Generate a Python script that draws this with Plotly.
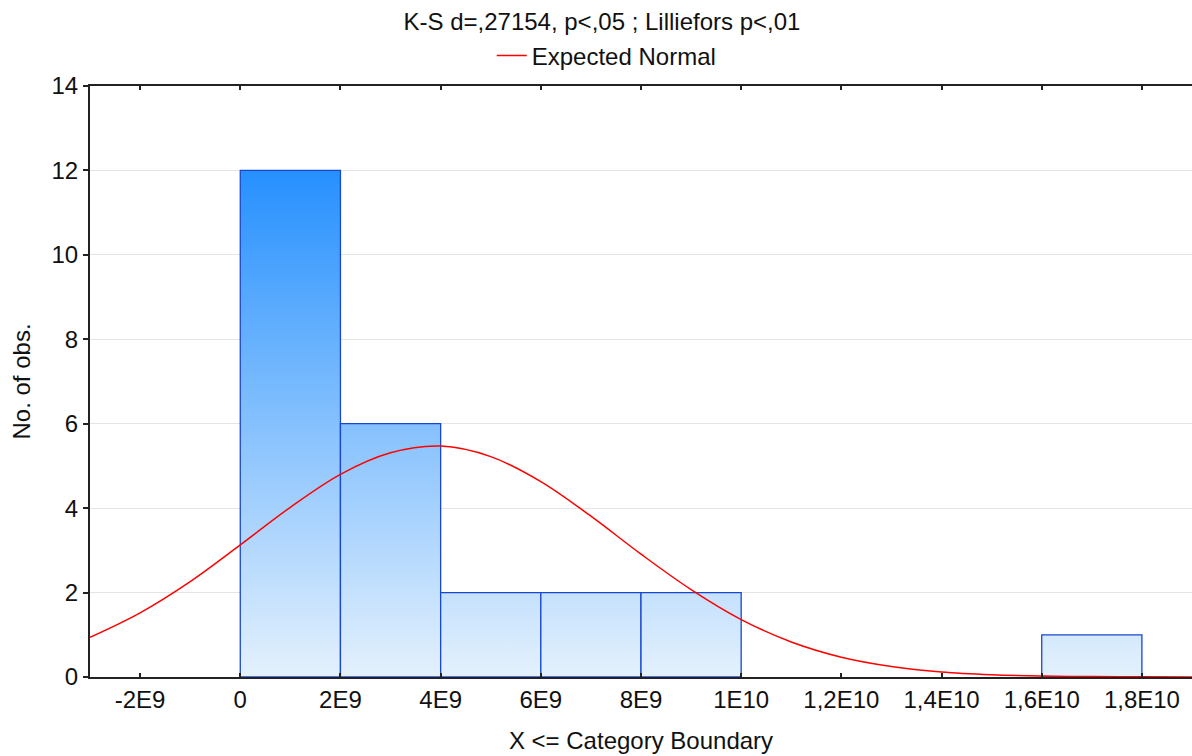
import plotly.graph_objects as go

# ---- data ----
bin_left = [0, 2e9, 4e9, 6e9, 8e9, 1.0e10, 1.2e10, 1.4e10, 1.6e10]
bin_right = [2e9, 4e9, 6e9, 8e9, 1.0e10, 1.2e10, 1.4e10, 1.6e10, 1.8e10]
counts = [12, 6, 2, 2, 2, 0, 0, 0, 1]

curve_x = [-3e9, -2e9, -1e9, 0, 1e9, 2e9, 3e9, 4e9, 5e9, 6e9, 7e9, 8e9, 9e9,
           1.0e10, 1.1e10, 1.2e10, 1.3e10, 1.4e10, 1.5e10, 1.6e10, 1.7e10, 1.8e10, 1.9e10]
curve_y = [0.94, 1.52, 2.26, 3.13, 4.02, 4.80, 5.31, 5.47, 5.22, 4.63, 3.81, 2.91, 2.07,
           1.36, 0.83, 0.47, 0.25, 0.12, 0.055, 0.024, 0.009, 0.003, 0.001]

tick_vals = [-2e9, 0, 2e9, 4e9, 6e9, 8e9, 1.0e10, 1.2e10, 1.4e10, 1.6e10, 1.8e10]
tick_text = ["-2E9", "0", "2E9", "4E9", "6E9", "8E9", "1E10", "1,2E10", "1,4E10", "1,6E10", "1,8E10"]

title_text = "K-S d=,27154, p<,05 ; Lilliefors p<,01"
x_title = "X <= Category Boundary"
y_title = "No. of obs."

FONT = "Liberation Sans, Arial, sans-serif"
FS = 24
max_count = max(counts)

fig = go.Figure()

for l, r, c in zip(bin_left, bin_right, counts):
    if c <= 0:
        continue
    fig.add_trace(go.Scatter(
        x=[l, l, r, r, l], y=[0, c, c, 0, 0],
        mode="lines", fill="toself",
        fillgradient=dict(type="vertical",
                          colorscale=[[0, "#e4f1fd"], [1, "#2690fe"]],
                          start=0, stop=max_count),
        line=dict(color="#1848cf", width=1.3),
        showlegend=False, hoverinfo="skip",
    ))

fig.add_trace(go.Scatter(
    x=curve_x, y=curve_y, mode="lines", name="Expected Normal",
    line=dict(color="#ff0000", width=1.5, shape="spline"),
))

fig.update_layout(
    width=1192, height=756,
    margin=dict(l=90, r=0, t=86, b=79, autoexpand=False),
    paper_bgcolor="white", plot_bgcolor="white",
    font=dict(family=FONT, size=FS, color="#111111"),
    title=dict(text=title_text, x=0.505, xref="container", xanchor="center",
               y=0.972, yref="container", yanchor="middle",
               font=dict(family=FONT, size=FS, color="#111111")),
    legend=dict(orientation="h", xref="container", x=0.509, xanchor="center",
                yref="container", y=0.926, yanchor="middle",
                font=dict(family=FONT, size=FS, color="#111111"),
                bgcolor="rgba(0,0,0,0)"),
    showlegend=True,
)

fig.update_xaxes(
    range=[-3e9, 1.9e10],
    tickvals=tick_vals, ticktext=tick_text,
    ticks="inside", ticklen=4, tickwidth=1.5, tickcolor="#222222",
    showline=True, linecolor="#222222", linewidth=2, mirror="ticks",
    showgrid=False, zeroline=False,
    title=dict(text=x_title, standoff=20, font=dict(family=FONT, size=FS)),
    tickfont=dict(size=FS),
)
fig.update_yaxes(
    range=[0, 14], dtick=2,
    ticks="outside", ticklen=5, tickwidth=1.5, tickcolor="#222222",
    showline=True, linecolor="#222222", linewidth=2,
    showgrid=True, gridcolor="#e4e4e4", gridwidth=1,
    zeroline=False,
    title=dict(text=y_title, standoff=14, font=dict(family=FONT, size=FS)),
    tickfont=dict(size=FS),
)

fig.write_html("out.html", config={"displayModeBar": False},
               post_script="document.body.style.margin='0px';")
